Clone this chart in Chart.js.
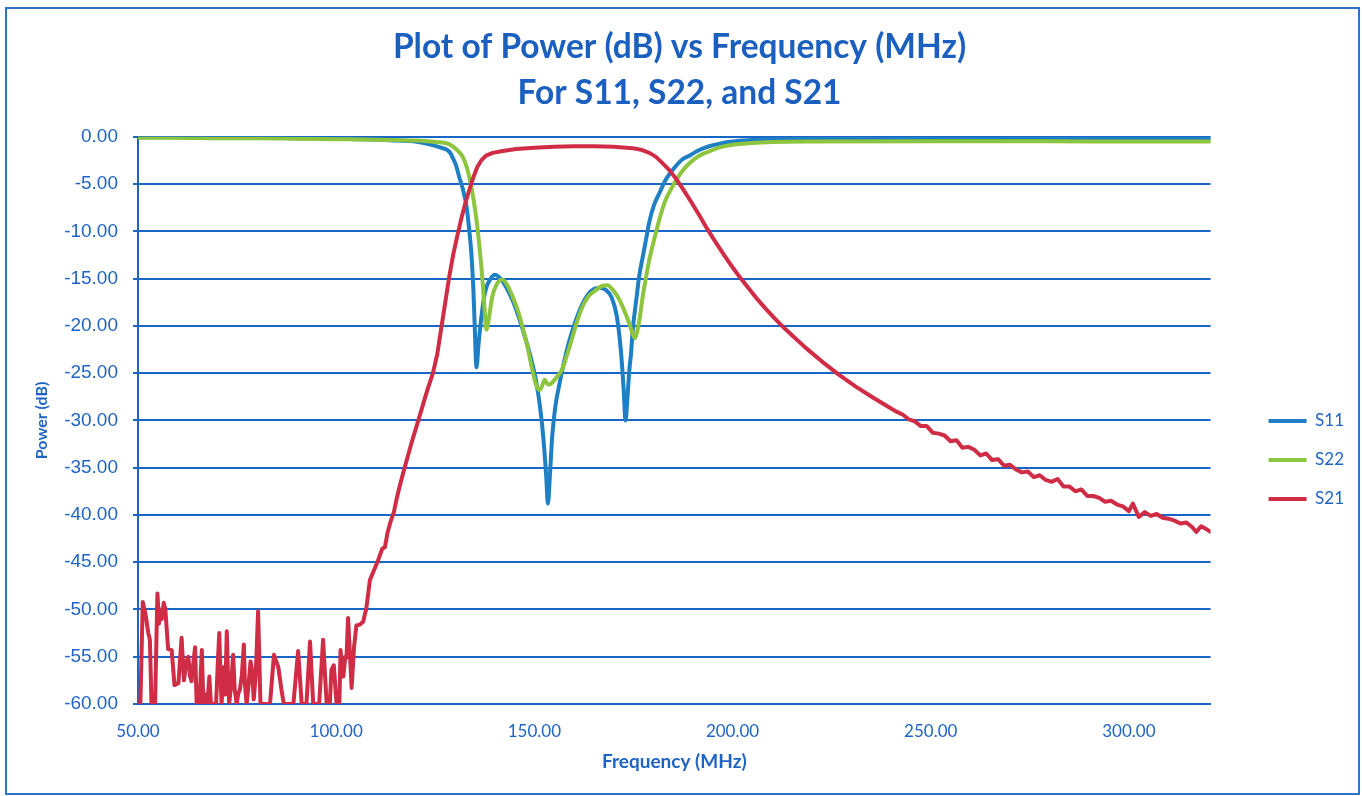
<!DOCTYPE html>
<html>
<head>
<meta charset="utf-8">
<script src="https://cdn.jsdelivr.net/npm/chart.js@4.4.1/dist/chart.umd.min.js"></script>
<style>
  body { margin: 0; background: #fff; }
  #wrap { position: relative; width: 1362px; height: 796px; }
  #frame { position: absolute; left: 5px; top: 7px; width: 1351px; height: 784px; border: 2px solid #2f74c9; pointer-events: none; }
</style>
</head>
<body>
<div id="wrap">
  <canvas id="myChart" width="1362" height="796"></canvas>
  <div id="frame"></div>
</div>
<script>
// tick labels
var xTicks = [50, 100, 150, 200, 250, 300];
var yTicks = [0, -5, -10, -15, -20, -25, -30, -35, -40, -45, -50, -55, -60];

// S11
var s11Freq = [50, 60, 70, 80, 90, 100, 105, 110, 115, 120,
  123.5, 126, 128.6, 129.5, 130.3, 131, 132, 132.9, 133.6, 134.1,
  134.6, 134.9, 135.4, 135.9, 136.6, 137.3, 138, 139, 140, 141,
  142, 143, 144.5, 146, 147.5, 149, 150.5, 151.5, 152.3, 153,
  153.4, 153.9, 154.5, 155.3, 156.3, 157.5, 158.8, 160.3, 162, 163.5,
  165, 166.5, 168, 169.5, 170.8, 171.8, 172.5, 173, 173.5, 174,
  174.4, 174.8, 175.7, 176.5, 177.3, 178.2, 179, 180.2, 181.5, 183.2,
  184.9, 187.3, 189.1, 191.6, 194.1, 197, 200, 205, 210, 220,
  240, 260, 280, 300, 320.6];
var s11Db = [-0.05, -0.05, -0.08, -0.1, -0.15, -0.2, -0.25, -0.3, -0.4, -0.5,
  -0.8, -1.1, -1.6, -2.3, -3.1, -4.2, -5.6, -7.4, -10, -12.3,
  -16, -19.4, -24.4, -22, -19.2, -17, -15.8, -15.0, -14.6, -14.8,
  -15.3, -16.0, -17.3, -19.0, -21.0, -23.2, -26, -28.8, -32, -36,
  -38.8, -36, -31.7, -28.5, -26.2, -23.8, -21.6, -19.6, -17.8, -16.7,
  -16.1, -16.0, -16.2, -17, -19, -22.5, -26.5, -30, -27.5, -24.5,
  -22.9, -20.5, -17.3, -14.6, -12.8, -10.8, -9.0, -7.2, -6.0, -4.5,
  -3.5, -2.4, -2.0, -1.4, -1.0, -0.7, -0.5, -0.35, -0.25, -0.22,
  -0.2, -0.2, -0.18, -0.18, -0.2];

// S22
var s22Freq = [50, 60, 70, 80, 90, 100, 110, 115, 120, 125,
  128.6, 130.5, 131.9, 133, 134.1, 135, 135.6, 136.3, 136.9, 137.4,
  137.9, 138.4, 139.4, 140.5, 141.9, 143.2, 144.5, 146, 147, 148.3,
  149.5, 150.4, 151.3, 152, 152.6, 153.2, 153.8, 154.5, 155.5, 157,
  158.3, 159.6, 160.8, 162.1, 163.8, 165.6, 167, 168.4, 170, 171.4,
  172.7, 173.9, 174.7, 175.4, 176, 176.5, 177.3, 178.2, 179, 180.2,
  181.5, 183, 184.8, 187, 189.1, 191.6, 194.1, 197, 200, 205,
  210, 220, 250, 280, 300, 320.6];
var s22Db = [-0.1, -0.1, -0.15, -0.15, -0.2, -0.25, -0.3, -0.35, -0.4, -0.55,
  -0.8, -1.4, -2.1, -3.3, -5.3, -7.6, -9.5, -12.3, -15.1, -18,
  -20.4, -19.5, -16.9, -15.6, -15.1, -15.7, -16.9, -18.6, -20.1, -22.3,
  -24.7, -26.2, -26.8, -26.3, -25.7, -26.1, -26.2, -26, -25.5, -24.6,
  -23, -21.2, -19.5, -18, -16.8, -16.2, -15.8, -15.7, -16.3, -17.2,
  -18.4, -19.7, -20.7, -21.3, -20.5, -19.4, -17, -14.8, -13, -10.9,
  -8.8, -6.8, -5.3, -3.8, -2.8, -2.0, -1.55, -1.1, -0.85, -0.65,
  -0.55, -0.5, -0.48, -0.48, -0.5, -0.5];

// S21
var s21Freq = [50.0, 50.6, 51.2, 51.9, 52.6, 53.0, 53.4, 54.3, 54.9, 55.3,
  55.6, 56.0, 56.5, 56.9, 57.6, 58.5, 59.2, 60.2, 61.0, 61.6,
  62.2, 62.7, 63.1, 63.5, 64.0, 64.4, 64.8, 65.5, 66.1, 66.5,
  67.0, 67.5, 68.0, 68.4, 69.0, 69.7, 70.1, 70.5, 70.9, 71.1,
  71.4, 71.7, 72.0, 72.4, 72.7, 73.0, 73.5, 74.0, 74.4, 74.9,
  75.3, 75.7, 76.2, 76.7, 77.0, 77.4, 77.9, 78.4, 78.8, 79.2,
  79.7, 80.3, 80.9, 81.5, 82.5, 83.3, 84.3, 85.4, 86.2, 86.8,
  88.0, 89.2, 90.4, 91.3, 92.5, 93.4, 94.2, 95.7, 96.7, 97.6,
  98.4, 98.8, 99.4, 100.1, 100.8, 101.1, 101.5, 101.8, 102.3, 102.6,
  103.0, 103.5, 103.9, 104.5, 105.1, 106.0, 106.8, 107.6, 108.5, 109.3,
  110.2, 111.0, 111.6, 112.3, 113.0, 113.8, 114.5, 115.2, 116.0, 117.0,
  118.0, 119.0, 120.0, 121.0, 122.0, 123.0, 124.4, 125.5, 126.6, 127.6,
  128.6, 129.6, 130.6, 131.6, 132.6, 133.6, 134.6, 135.6, 136.6, 137.8,
  139.5, 142, 145.4, 150, 155, 160, 165, 170, 174.8, 177.2,
  179, 180.6, 182, 184, 185.7, 187.3, 189.5, 191.6, 193.7, 195.8,
  198, 200, 202, 204.2, 206.3, 208.4, 210.5, 212.6, 215, 218.4,
  222.5, 226.8, 231, 235.5, 240, 241.5, 243, 244.5, 246, 247.5,
  249, 250.5, 252, 253.5, 255, 256.5, 258, 259.5, 261, 262.5,
  264, 265.5, 267, 268.5, 270, 271.5, 273, 274.5, 276, 277.5,
  279, 280.5, 282, 283.5, 285, 286.5, 288, 289.5, 291, 292.5,
  294, 295.5, 297, 298.5, 300, 301, 302.5, 304, 305.5, 307,
  308.5, 310, 311.5, 313, 314.5, 316, 317, 318.2, 319.5, 320.6];
var s21Db = [-60, -60, -49.2, -50.5, -52.5, -53.2, -60, -60, -48.3, -51.5,
  -50.0, -51.0, -49.3, -50.0, -54.2, -54.3, -58.0, -57.8, -53.0, -57.5,
  -55.5, -55.0, -57.0, -57.6, -55.5, -54.0, -60, -60, -54.3, -60,
  -59, -60, -57.1, -60, -60, -60, -56, -52.5, -58, -60,
  -57, -56.1, -59, -52.3, -57, -60, -58, -54.8, -58.5, -60,
  -58.9, -58.5, -57, -53.7, -58, -60, -58, -55.5, -56.5, -59.5,
  -57, -50.2, -60, -60, -60, -60, -54.8, -56.1, -58.5, -60,
  -60, -60, -54.4, -60, -60, -53.4, -60, -60, -53.2, -60,
  -60, -56.4, -55.9, -60, -60, -54.3, -56, -57.1, -55, -55.1,
  -50.9, -55, -58.3, -54, -51.7, -51.6, -51.3, -49.9, -46.9, -46.1,
  -45.2, -44.3, -43.6, -43.4, -41.8, -40.6, -39.8, -38.4, -37.0, -35.4,
  -33.9, -32.4, -31.0, -29.6, -28.2, -26.8, -25.0, -23.0, -20.0, -17.3,
  -14.6, -12.3, -10.4, -8.6, -7.0, -5.6, -4.3, -3.2, -2.5, -2.0,
  -1.7, -1.5, -1.3, -1.15, -1.05, -1.0, -1.0, -1.05, -1.2, -1.4,
  -1.7, -2.1, -2.65, -3.5, -4.4, -5.4, -6.85, -8.3, -9.8, -11.2,
  -12.6, -13.8, -14.95, -16.1, -17.2, -18.2, -19.15, -20.05, -21.0, -22.3,
  -23.75, -25.15, -26.4, -27.6, -28.75, -29.1, -29.4, -29.9, -30.1, -30.6,
  -30.6, -31.3, -31.4, -31.6, -32.2, -32.1, -32.9, -32.8, -33.1, -33.7,
  -33.5, -34.2, -34.1, -34.8, -34.7, -35.2, -35.5, -35.4, -36.0, -35.8,
  -36.3, -36.5, -36.2, -37.0, -37.0, -37.5, -37.3, -38.0, -38.0, -38.2,
  -38.6, -38.5, -38.9, -39.1, -39.6, -38.8, -40.2, -39.7, -40.1, -39.9,
  -40.3, -40.4, -40.6, -40.9, -40.8, -41.3, -41.8, -41.2, -41.5, -41.8];

var blue = '#1f64c4';
var gridBlue = '#1a66c6';

function points(freq, db) {
    return freq.map(function (f, i) { return { x: f, y: db[i] }; });
}

Chart.defaults.font.family = 'Lato, "Open Sans", sans-serif';

var ctx = document.getElementById('myChart').getContext('2d');
var myChart = new Chart(ctx, {
    type: 'line',
    data: {
        datasets: [{
            label: 'S11',
            data: points(s11Freq, s11Db),
            borderColor: '#1f7fc4',
            backgroundColor: '#1f7fc4',
            borderWidth: 4,
            pointRadius: 0,
            borderCapStyle: 'round',
            borderJoinStyle: 'round',
            cubicInterpolationMode: 'monotone',
            order: 3
        }, {
            label: 'S22',
            data: points(s22Freq, s22Db),
            borderColor: '#8dc53e',
            backgroundColor: '#8dc53e',
            borderWidth: 4,
            pointRadius: 0,
            borderCapStyle: 'round',
            borderJoinStyle: 'round',
            cubicInterpolationMode: 'monotone',
            order: 2
        }, {
            label: 'S21',
            data: points(s21Freq, s21Db),
            borderColor: '#d02c46',
            backgroundColor: '#d02c46',
            borderWidth: 4,
            pointRadius: 0,
            borderCapStyle: 'round',
            borderJoinStyle: 'round',
            tension: 0,
            order: 1
        }]
    },
    options: {
        responsive: false,
        animation: false,
        layout: {
            padding: { left: 5, right: 8, top: 0, bottom: 12 }
        },
        plugins: {
            title: {
                display: true,
                text: ['Plot of Power (dB) vs Frequency (MHz)', 'For S11, S22, and S21'],
                color: '#1b5fbf',
                font: { size: 33.5, weight: 'bold', lineHeight: 1.37 },
                padding: { top: 24, bottom: 21 }
            },
            legend: {
                position: 'right',
                fullSize: false,
                labels: {
                    usePointStyle: true,
                    pointStyle: 'line',
                    pointStyleWidth: 38,
                    padding: 22,
                    color: blue,
                    font: { size: 17 },
                    sort: function (a, b) { return a.datasetIndex - b.datasetIndex; }
                },
                // empty title only pushes the items down a little
                title: {
                    display: true,
                    text: '',
                    font: { size: 15, lineHeight: 1 },
                    padding: { top: 0, bottom: 64 }
                }
            },
            tooltip: { enabled: false }
        },
        scales: {
            x: {
                type: 'linear',
                min: 50,
                max: 320.6,
                afterBuildTicks: function (scale) {
                    scale.ticks = xTicks.map(function (v) { return { value: v }; });
                },
                afterFit: function (scale) { scale.height = 80; },
                ticks: {
                    color: blue,
                    font: { size: 17 },
                    padding: 17,
                    maxRotation: 0,
                    autoSkip: false,
                    callback: function (v) { return v.toFixed(2); }
                },
                grid: { display: false, drawTicks: false },
                border: { display: true, color: gridBlue, width: 2 },
                title: {
                    display: true,
                    text: 'Frequency (MHz)',
                    color: blue,
                    font: { size: 19, weight: 'bold' },
                    padding: { top: 0, bottom: 11 }
                }
            },
            y: {
                min: -60,
                max: 0,
                afterBuildTicks: function (scale) {
                    scale.ticks = yTicks.map(function (v) { return { value: v }; });
                },
                afterFit: function (scale) { scale.width = 133; },
                ticks: {
                    color: blue,
                    font: { family: '"Liberation Sans", Arial, sans-serif', size: 19 },
                    padding: 15,
                    callback: function (v) { return v.toFixed(2); }
                },
                grid: { color: gridBlue, lineWidth: 2, tickLength: 5 },
                border: { display: true, color: gridBlue, width: 2 },
                title: {
                    display: true,
                    text: 'Power (dB)',
                    color: blue,
                    font: { size: 16, weight: 'bold' },
                    padding: { top: 27, bottom: 0 }
                }
            },
            // blank axis on the right: keeps a gap between plot and legend
            gap: {
                type: 'linear',
                position: 'right',
                grid: { display: false, drawTicks: false },
                ticks: { display: false },
                border: { display: false },
                afterFit: function (scale) { scale.width = 36; }
            }
        }
    }
});
</script>
</body>
</html>
